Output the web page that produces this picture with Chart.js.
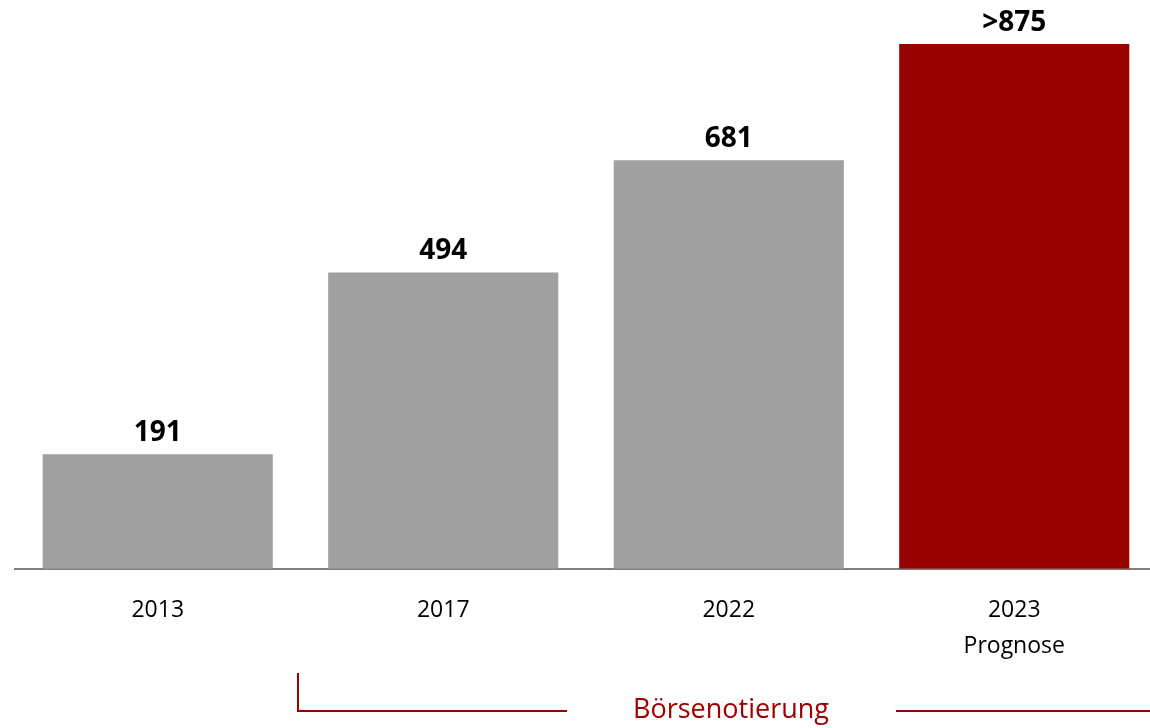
<!DOCTYPE html>
<html>
<head>
<meta charset="utf-8">
<script src="https://cdn.jsdelivr.net/npm/chart.js@4"></script>
<style>
  html, body { margin: 0; padding: 0; background: #fff; overflow: hidden; }
  #wrap { width: 1150px; height: 728px; overflow: hidden; }
</style>
</head>
<body>
<div id="wrap"><canvas id="chart" width="1160" height="728"></canvas></div>
<script>
const years = [['2013'], ['2017'], ['2022'], ['2023', 'Prognose']];
const values = [191, 494, 681, 875];
const valueLabels = ['191', '494', '681', '>875'];
const barColors = ['#a0a0a0', '#a0a0a0', '#a0a0a0', '#990000'];
const bracketLabel = 'Börsenotierung';

const FONT = '"Open Sans", "Noto Sans", sans-serif';

// value labels above the bars
const valueLabelPlugin = {
    id: 'valueLabels',
    afterDatasetsDraw(chart) {
        const ctx = chart.ctx;
        const meta = chart.getDatasetMeta(0);
        ctx.save();
        ctx.font = 'bold 28px ' + FONT;
        ctx.fillStyle = '#000';
        ctx.textAlign = 'center';
        ctx.textBaseline = 'middle';
        meta.data.forEach((bar, i) => {
            ctx.fillText(valueLabels[i], bar.x, bar.y - 21);
        });
        ctx.restore();
    }
};

// bracket with "Börsenotierung" below the axis
const bracketPlugin = {
    id: 'bracket',
    afterDraw(chart) {
        const ctx = chart.ctx;
        ctx.save();
        ctx.strokeStyle = '#990000';
        ctx.lineWidth = 2;
        ctx.beginPath();
        ctx.moveTo(298, 673);
        ctx.lineTo(298, 711);
        ctx.lineTo(567, 711);
        ctx.moveTo(896, 711);
        ctx.lineTo(1160, 711);
        ctx.stroke();
        ctx.font = '27px ' + FONT;
        ctx.fillStyle = '#a00000';
        ctx.textAlign = 'center';
        ctx.textBaseline = 'middle';
        ctx.fillText(bracketLabel, 731, 710);
        ctx.restore();
    }
};

new Chart(document.getElementById('chart').getContext('2d'), {
    type: 'bar',
    data: {
        labels: years,
        datasets: [{
            data: values,
            backgroundColor: barColors,
            borderWidth: 0,
            categoryPercentage: 1,
            barPercentage: 0.806
        }]
    },
    options: {
        responsive: false,
        animation: false,
        layout: { padding: { top: 29, left: 15, right: 3, bottom: 48 } },
        plugins: {
            legend: { display: false },
            tooltip: { enabled: false }
        },
        scales: {
            x: {
                grid: { display: false },
                border: { display: true, color: '#808080', width: 2 },
                ticks: {
                    color: '#000',
                    padding: 16,
                    font: { family: FONT, size: 23, lineHeight: 1.55 }
                }
            },
            y: {
                display: false,
                min: 0,
                max: 900
            }
        }
    },
    plugins: [valueLabelPlugin, bracketPlugin]
});
</script>
</body>
</html>
